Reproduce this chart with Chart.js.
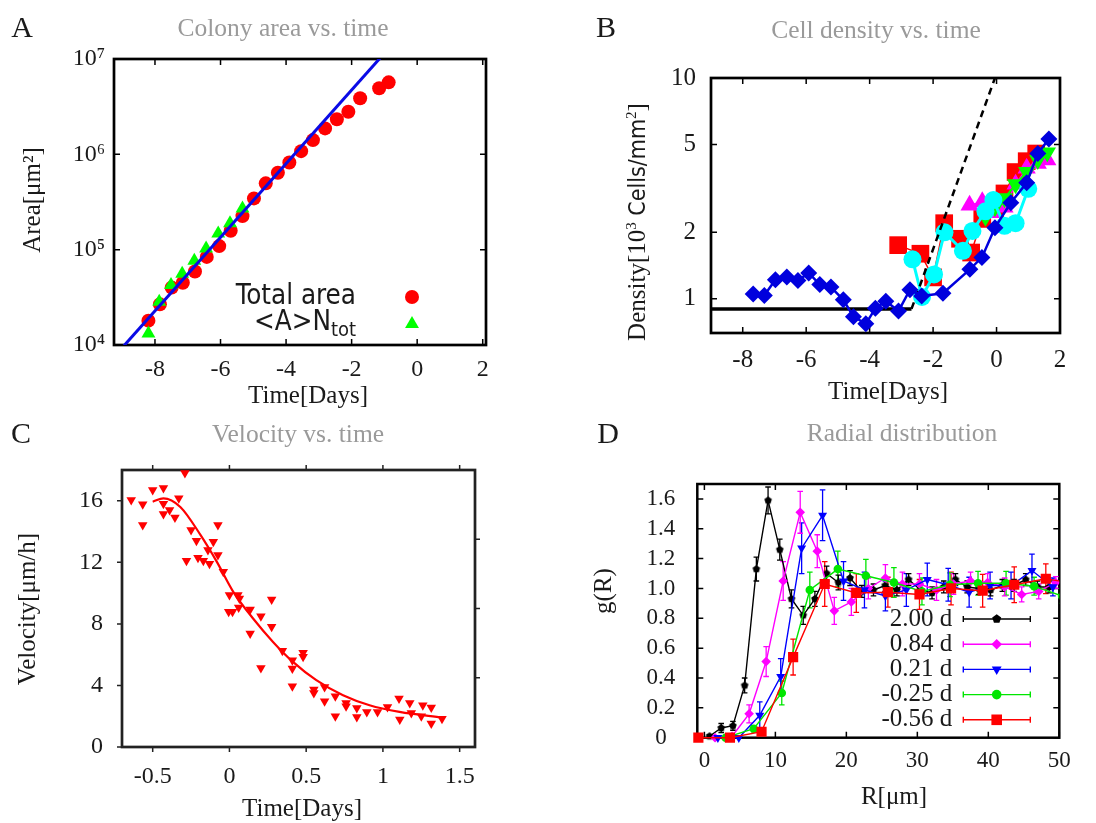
<!DOCTYPE html>
<html>
<head>
<meta charset="utf-8">
<script src="https://cdn.jsdelivr.net/npm/chart.js@4.4.1/dist/chart.umd.min.js"></script>
<style>
  html, body { margin: 0; padding: 0; background: #fff; }
  #page { position: relative; width: 1096px; height: 823px; overflow: hidden; }
  .panel { position: absolute; }
</style>
</head>
<body>
<div id="page">
  <div class="panel" style="left:0;top:0;width:548px;height:411px"><canvas id="ca"></canvas></div>
  <div class="panel" style="left:548px;top:0;width:548px;height:411px"><canvas id="cb"></canvas></div>
  <div class="panel" style="left:0;top:411px;width:548px;height:412px"><canvas id="cc"></canvas></div>
  <div class="panel" style="left:548px;top:411px;width:548px;height:412px"><canvas id="cd"></canvas></div>
</div>
<script>
// ---- A: colony area ----
const aTotalX = [-8.2, -7.85, -7.49, -7.15, -6.78, -6.42, -6.04, -5.69, -5.33, -4.98, -4.62,
                 -4.25, -3.9, -3.54, -3.18, -2.81, -2.45, -2.1, -1.74, -1.16, -0.87];
const aTotalY = [1.8e4, 2.67e4, 4.0e4, 4.5e4, 5.9e4, 8.4e4, 1.09e5, 1.58e5, 2.25e5, 3.45e5, 4.96e5,
                 6.4e5, 8.2e5, 1.08e6, 1.41e6, 1.87e6, 2.33e6, 2.8e6, 3.87e6, 4.93e6, 5.69e6];
const aCellX = [-8.2, -7.87, -7.51, -7.17, -6.8, -6.44, -6.07, -5.71, -5.33];
const aCellY = [1.32e4, 2.84e4, 4.25e4, 5.6e4, 7.65e4, 1.03e5, 1.48e5, 1.89e5, 2.71e5];
const aFitX = [-9.25, -1.0];
const aFitY = [7.5e3, 1.15e7];
const aXTicks = [-8, -6, -4, -2, 0, 2];
const aYTicks = [1e4, 1e5, 1e6, 1e7];
const aYLabels = ['10\u2074', '10\u2075', '10\u2076', '10\u2077'];

// ---- B: cell density ----
const bBlueX = [-7.67, -7.32, -6.97, -6.61, -6.26, -5.92, -5.57, -5.22, -4.83, -4.51, -4.12, -3.82,
                -3.49, -3.09, -2.73, -2.36, -1.69, -0.84, -0.46, -0.05, 0.45, 0.95, 1.3, 1.65];
const bBlueY = [1.05, 1.035, 1.22, 1.255, 1.21, 1.31, 1.16, 1.13, 0.99, 0.83, 0.77, 0.905,
                0.976, 0.88, 1.10, 1.03, 1.06, 1.36, 1.54, 2.1, 2.72, 3.35, 4.55, 5.3];
const bRedX = [-3.1, -2.4, -2.0, -1.65, -1.15, -0.8, -0.45, -0.05, 0.25, 0.6, 0.95, 1.25];
const bRedY = [1.75, 1.6, 1.25, 2.2, 1.87, 1.62, 2.3, 2.55, 3.0, 3.75, 4.2, 4.55];
const bCyanX = [-2.65, -2.35, -1.97, -1.64, -1.06, -0.76, -0.35, -0.1, 0.25, 0.6, 1.0];
const bCyanY = [1.51, 1.02, 1.29, 2.0, 1.65, 2.03, 2.49, 2.8, 2.14, 2.2, 3.15];
const bMagX = [-0.85, -0.45, -0.1, 0.25, 0.6, 0.95, 1.3, 1.6];
const bMagY = [2.65, 2.75, 2.45, 2.6, 3.3, 3.9, 4.1, 4.25];
const bGreenX = [-0.35, -0.05, 0.25, 0.6, 0.95, 1.3, 1.6];
const bGreenY = [2.35, 2.6, 2.85, 3.3, 3.75, 4.25, 4.6];
const bBaseX = [-9, -2.68];
const bBaseY = [0.9, 0.9];
const bFitX = [-2.68, -0.05];
const bFitY = [0.9, 10];
const bXTicks = [-8, -6, -4, -2, 0, 2];
const bYTicks = [1, 2, 5, 10];

// ---- C: velocity ----
const cVelX = [-0.64, -0.565, -0.565, -0.5, -0.43, -0.43, -0.43, -0.39, -0.355, -0.33,
               -0.29, -0.28, -0.25, -0.215, -0.205, -0.17, -0.14, -0.13, -0.105, -0.075,
               -0.075, -0.04, 0.0, -0.005, 0.02, 0.055, 0.065, 0.06, 0.135, 0.135,
               0.205, 0.205, 0.275, 0.275, 0.345, 0.41, 0.41, 0.41, 0.48, 0.48,
               0.55, 0.55, 0.62, 0.62, 0.69, 0.69, 0.76, 0.76, 0.83, 0.83,
               0.895, 0.965, 1.03, 1.105, 1.11, 1.175, 1.185, 1.25, 1.26, 1.315,
               1.315, 1.385];
const cVelY = [16.05, 15.77, 14.43, 16.7, 16.83, 15.8, 15.14, 15.4, 14.92, 16.16,
               17.8, 12.1, 14.1, 13.4, 12.3, 12.1, 12.8, 11.9, 13.34, 14.43,
               12.47, 11.39, 9.87, 8.79, 8.79, 9.87, 9.65, 9.07, 8.94, 7.38,
               8.5, 5.14, 9.59, 7.81, 6.25, 5.64, 5.1, 3.95, 6.12, 5.86,
               3.73, 3.51, 3.9, 2.97, 3.3, 2.0, 2.86, 2.65, 2.54, 1.95,
               2.28, 2.28, 2.6, 3.15, 1.78, 2.86, 2.21, 2.0, 2.71, 2.56,
               1.52, 1.84];
const cFitX = [-0.5, -0.43, -0.32, -0.19, -0.08, 0.024, 0.154, 0.284, 0.414, 0.566, 0.74, 0.913, 1.108, 1.39];
const cFitY = [15.94, 16.16, 15.6, 13.8, 12.0, 10.1, 8.35, 6.83, 5.53, 4.34, 3.36, 2.71, 2.28, 1.91];
const cXTicks = [-0.5, 0, 0.5, 1, 1.5];
const cXLabels = ['-0.5', '0', '0.5', '1', '1.5'];
const cYTicks = [0, 4, 8, 12, 16];
const cY2Ticks = [1, 2, 3];

// ---- D: radial distribution ----
const dBlackX = [0.72, 2.37, 4.02, 5.67, 7.32, 8.97, 10.62, 12.27, 13.92, 15.57, 17.22, 18.87, 20.52, 22.17, 23.82,
                 25.47, 27.12, 28.77, 30.42, 32.07, 33.72, 35.37, 37.02, 38.67, 40.32, 41.97, 43.62, 45.27, 46.92, 48.57];
const dBlackY = [0.01, 0.065, 0.08, 0.35, 1.13, 1.59, 1.26, 0.93, 0.82, 0.93, 1.10, 1.04, 1.07, 0.98, 0.99,
                 1.02, 0.99, 1.06, 0.99, 0.97, 1.01, 1.06, 1.01, 1.0, 0.99, 1.02, 1.02, 1.06, 1.01, 1.01];
const dBlackErr = [0.01, 0.03, 0.03, 0.05, 0.08, 0.09, 0.07, 0.06, 0.06, 0.05, 0.05, 0.05, 0.05, 0.04, 0.04,
                   0.04, 0.04, 0.04, 0.04, 0.04, 0.04, 0.04, 0.04, 0.04, 0.04, 0.04, 0.04, 0.04, 0.04, 0.04];
const dMagX = [1.5, 3.9, 6.3, 8.7, 11.1, 13.5, 15.9, 18.3, 20.7, 23.1, 25.5, 27.9, 30.3, 32.7, 35.1, 37.5, 39.9, 42.3, 44.7, 47.1, 49.5];
const dMagY = [0.0, 0.01, 0.16, 0.51, 1.05, 1.51, 1.25, 0.85, 0.91, 1.0, 1.07, 1.03, 1.03, 0.99, 1.03, 1.05, 1.04, 1.01, 0.96, 0.98, 1.04];
const dMagErr = [0.0, 0.01, 0.06, 0.1, 0.13, 0.14, 0.11, 0.09, 0.09, 0.07, 0.09, 0.08, 0.07, 0.07, 0.07, 0.06, 0.06, 0.06, 0.05, 0.05, 0.04];
const dBlueX = [1.9, 4.85, 7.8, 10.75, 13.7, 16.65, 19.6, 22.55, 25.5, 28.45, 31.4, 34.35, 37.3, 40.25, 43.2, 46.15, 49.1];
const dBlueY = [0.0, 0.0, 0.15, 0.41, 1.27, 1.49, 1.05, 0.99, 0.95, 0.99, 1.06, 1.025, 0.975, 1.02, 1.02, 1.12, 1.01];
const dBlueErr = [0.0, 0.0, 0.09, 0.12, 0.17, 0.17, 0.13, 0.12, 0.1, 0.11, 0.11, 0.11, 0.1, 0.09, 0.09, 0.11, 0.06];
const dGreenX = [3.0, 6.95, 10.9, 14.85, 18.8, 22.75, 26.7, 30.65, 34.6, 38.55, 42.5, 46.45, 50.4];
const dGreenY = [0.0, 0.06, 0.30, 0.99, 1.13, 1.085, 1.04, 0.98, 1.025, 1.035, 1.035, 1.015, 0.95];
const dGreenErr = [0.0, 0.02, 0.08, 0.12, 0.12, 0.11, 0.1, 0.09, 0.08, 0.08, 0.08, 0.06, 0.05];
const dRedX = [-0.85, 3.6, 8.05, 12.5, 16.95, 21.4, 25.85, 30.3, 34.75, 39.2, 43.65, 48.1, 52.55];
const dRedY = [0.0, 0.0, 0.04, 0.54, 1.03, 0.97, 0.975, 0.96, 1.0, 0.985, 1.025, 1.065, 1.03];
const dRedErr = [0.0, 0.0, 0.02, 0.12, 0.15, 0.13, 0.1, 0.1, 0.11, 0.11, 0.12, 0.1, 0.1];
const dLegendLabels = ['2.00 d', '0.84 d', '0.21 d', '-0.25 d', '-0.56 d'];
const dXTicks = [0, 10, 20, 30, 40, 50];
const dYTicks = [0, 0.2, 0.4, 0.6, 0.8, 1.0, 1.2, 1.4, 1.6];
const dYLabels = ['0', '0.2', '0.4', '0.6', '0.8', '1.0', '1.2', '1.4', '1.6'];

const SERIF = "'Liberation Serif', 'DejaVu Serif', 'Times New Roman', serif";
const SANS = "'DejaVu Sans Condensed', 'DejaVu Sans', Verdana, sans-serif";
const INK = '#1a1a1a';
const GREY = '#9a9a9a';
const RED = '#ff0000', GREEN = '#00ff00', BLUE = '#0a0ae6', DBLUE = '#0000dd';
const CYAN = '#00ffff', MAGENTA = '#ff00ff';

function pts(xs, ys) {
    return xs.map((x, i) => ({ x: x, y: ys[i] }));
}

// same shapes as Chart.js point styles, for hand drawn legends
function drawMarker(ctx, style, x, y, r, color) {
    ctx.save();
    ctx.fillStyle = color;
    ctx.beginPath();
    if (style === 'circle') {
        ctx.arc(x, y, r, 0, Math.PI * 2);
    } else if (style === 'triangle' || style === 'triangleDown') {
        const s = style === 'triangle' ? 1 : -1;
        for (let k = 0; k < 3; k++) {
            const a = k * 2 * Math.PI / 3;
            ctx.lineTo(x + Math.sin(a) * r, y - s * Math.cos(a) * r);
        }
    } else if (style === 'rectRot') {
        ctx.moveTo(x, y - r); ctx.lineTo(x + r, y); ctx.lineTo(x, y + r); ctx.lineTo(x - r, y);
    } else if (style === 'rect') {
        const h = r * Math.SQRT1_2;
        ctx.rect(x - h, y - h, 2 * h, 2 * h);
    } else if (style === 'pentagon') {
        for (let k = 0; k < 5; k++) {
            const a = -Math.PI / 2 + k * 2 * Math.PI / 5;
            ctx.lineTo(x + r * Math.cos(a), y + r * Math.sin(a));
        }
    }
    ctx.closePath();
    ctx.fill();
    ctx.restore();
}

function pentagon(r, color) {
    const c = document.createElement('canvas');
    const s = Math.ceil(2 * r + 2);
    c.width = s; c.height = s;
    drawMarker(c.getContext('2d'), 'pentagon', s / 2, s / 2, r, color);
    return c;
}

// text made of pieces with their own font and vertical shift, centred on (x, y)
function richText(ctx, parts, x, y, rotate) {
    ctx.save();
    ctx.translate(x, y);
    if (rotate) ctx.rotate(-Math.PI / 2);
    ctx.fillStyle = INK;
    ctx.textBaseline = 'alphabetic';
    ctx.textAlign = 'left';
    let total = 0;
    parts.forEach(p => { ctx.font = p.font; p.w = ctx.measureText(p.t).width; total += p.w; });
    let cx = -total / 2;
    parts.forEach(p => {
        ctx.font = p.font;
        ctx.fillText(p.t, cx, 8 + (p.dy || 0));
        cx += p.w;
    });
    ctx.restore();
}

function plainText(ctx, t, x, y, font, color, align) {
    ctx.font = font;
    ctx.fillStyle = color;
    ctx.textAlign = align || 'center';
    ctx.textBaseline = 'middle';
    ctx.fillText(t, x, y);
}

function decorPlugin(cfg) {
    return {
        id: 'decor',
        afterDraw(chart) {
            const ctx = chart.ctx;
            ctx.save();
            plainText(ctx, cfg.letter, cfg.letterAt[0], cfg.letterAt[1], `30px ${SERIF}`, INK);
            plainText(ctx, cfg.title, cfg.titleAt[0], cfg.titleAt[1], `25.5px ${SERIF}`, GREY);
            plainText(ctx, cfg.xTitle, cfg.xTitleAt[0], cfg.xTitleAt[1], `25px ${SERIF}`, INK);
            richText(ctx, cfg.yTitle, cfg.yTitleAt[0], cfg.yTitleAt[1], true);
            if (cfg.legend) cfg.legend(ctx, chart.chartArea);
            ctx.restore();
        }
    };
}

// plot frame with gnuplot style tick marks
function framePlugin(cfg) {
    return {
        id: 'frame',
        beforeDatasetsDraw(chart) {
            const { ctx, chartArea: a, scales } = chart;
            const L = cfg.tickLen, s = cfg.outward ? -1 : 1;
            ctx.save();
            ctx.strokeStyle = cfg.color;
            ctx.lineWidth = 1.5;
            ctx.beginPath();
            scales.x.ticks.forEach(t => {
                const px = scales.x.getPixelForValue(t.value);
                ctx.moveTo(px, a.bottom); ctx.lineTo(px, a.bottom - s * L);
                ctx.moveTo(px, a.top); ctx.lineTo(px, a.top + s * L);
            });
            scales.y.ticks.forEach(t => {
                const py = scales.y.getPixelForValue(t.value);
                ctx.moveTo(a.left, py); ctx.lineTo(a.left + s * L, py);
            });
            const yr = scales[cfg.right || 'y'];
            yr.ticks.forEach(t => {
                const py = yr.getPixelForValue(t.value);
                ctx.moveTo(a.right, py); ctx.lineTo(a.right - s * L, py);
            });
            ctx.stroke();
            ctx.lineWidth = cfg.width;
            ctx.strokeRect(a.left, a.top, a.right - a.left, a.bottom - a.top);
            ctx.restore();
        }
    };
}

function errorBarPlugin() {
    return {
        id: 'errbars',
        beforeDatasetsDraw(chart) {
            const { ctx, chartArea: a, scales } = chart;
            ctx.save();
            ctx.beginPath();
            ctx.rect(a.left, a.top - 10, a.right - a.left, a.bottom - a.top + 10);
            ctx.clip();
            chart.data.datasets.forEach(ds => {
                if (!ds.errors) return;
                ctx.strokeStyle = ds.borderColor;
                ctx.lineWidth = 1.3;
                ctx.beginPath();
                ds.data.forEach((p, i) => {
                    const e = ds.errors[i];
                    if (!e) return;
                    const px = scales.x.getPixelForValue(p.x);
                    const hi = scales.y.getPixelForValue(p.y + e);
                    const lo = scales.y.getPixelForValue(p.y - e);
                    ctx.moveTo(px, hi); ctx.lineTo(px, lo);
                    ctx.moveTo(px - 2.8, hi); ctx.lineTo(px + 2.8, hi);
                    ctx.moveTo(px - 2.8, lo); ctx.lineTo(px + 2.8, lo);
                });
                ctx.stroke();
            });
            ctx.restore();
        }
    };
}

function axis(opts) {
    return {
        type: opts.type || 'linear',
        position: opts.position,
        min: opts.min, max: opts.max,
        display: opts.display === undefined ? true : opts.display,
        grid: { display: false },
        border: { display: false },
        afterBuildTicks: s => { s.ticks = opts.ticks.map(v => ({ value: v })); },
        afterFit: s => {
            if (opts.width !== undefined) s.width = opts.width;
            if (opts.height !== undefined) s.height = opts.height;
        },
        ticks: {
            font: { family: SERIF, size: opts.font },
            color: INK,
            padding: opts.padding,
            crossAlign: opts.crossAlign || 'near',
            maxRotation: 0,
            autoSkip: false,
            callback: (v, i) => opts.labels ? opts.labels[i] : String(opts.ticks[i])
        }
    };
}

// plot rectangle inside each 548 x 411 panel
function baseOptions(box, w, h, scales) {
    return {
        responsive: true,
        maintainAspectRatio: false,
        animation: false,
        events: [],
        layout: { padding: { left: 0, top: box.top, right: w - box.right, bottom: 0 } },
        plugins: { legend: { display: false }, tooltip: { enabled: false } },
        scales: scales
    };
}

// ---------- A ----------
const boxA = { left: 114, top: 59, right: 486, bottom: 345 };
new Chart(document.getElementById('ca'), {
    type: 'scatter',
    data: {
        datasets: [
            { data: pts(aFitX, aFitY), showLine: true, borderColor: BLUE, borderWidth: 3, pointRadius: 0 },
            { data: pts(aCellX, aCellY), pointStyle: 'triangle', pointRadius: 8,
              pointBackgroundColor: GREEN, pointBorderWidth: 0 },
            { data: pts(aTotalX, aTotalY), pointStyle: 'circle', pointRadius: 7,
              pointBackgroundColor: RED, pointBorderWidth: 0 }
        ]
    },
    options: baseOptions(boxA, 548, 411, {
        x: axis({ position: 'bottom', min: -9.25, max: 2.1, ticks: aXTicks, font: 24, padding: 2, height: 411 - boxA.bottom }),
        y: axis({ type: 'logarithmic', position: 'left', min: 1e4, max: 1e7, ticks: aYTicks, labels: aYLabels,
                  font: 24, padding: 1, width: boxA.left })
    }),
    plugins: [
        framePlugin({ color: '#000', width: 2.7, tickLen: 6 }),
        decorPlugin({
            letter: 'A', letterAt: [22, 29],
            title: 'Colony area vs. time', titleAt: [283, 29],
            xTitle: 'Time[Days]', xTitleAt: [308, 396],
            yTitle: [{ t: 'Area[\u03bcm\u00b2]', font: `25px ${SERIF}` }], yTitleAt: [32, 200],
            legend(ctx, a) {
                const tx = a.right - 130;
                ctx.fillStyle = INK;
                ctx.textAlign = 'right';
                ctx.textBaseline = 'middle';
                ctx.font = `27.5px ${SANS}`;
                ctx.fillText('Total area', tx, a.top + 238);
                ctx.font = `20px ${SANS}`;
                const wSub = ctx.measureText('tot').width;
                ctx.fillText('tot', tx, a.top + 272);
                ctx.font = `27.5px ${SANS}`;
                ctx.fillText('<A>N', tx - wSub, a.top + 264);
                drawMarker(ctx, 'circle', a.right - 74, a.top + 238, 7, RED);
                drawMarker(ctx, 'triangle', a.right - 74, a.top + 265, 8, GREEN);
            }
        })
    ]
});

// ---------- B ----------
const boxB = { left: 163, top: 78, right: 512, bottom: 333 };
new Chart(document.getElementById('cb'), {
    type: 'scatter',
    data: {
        datasets: [
            { data: pts(bBlueX, bBlueY), showLine: true, borderColor: DBLUE, borderWidth: 2.5,
              pointStyle: 'rectRot', pointRadius: 8.5, pointBackgroundColor: DBLUE, pointBorderWidth: 0 },
            { data: pts(bFitX, bFitY), showLine: true, borderColor: '#000', borderWidth: 2.5,
              borderDash: [7, 5], pointRadius: 0 },
            { data: pts(bBaseX, bBaseY), showLine: true, borderColor: '#000', borderWidth: 3.5, pointRadius: 0 },
            { data: pts(bCyanX, bCyanY), showLine: true, borderColor: CYAN, borderWidth: 3,
              pointStyle: 'circle', pointRadius: 9, pointBackgroundColor: CYAN, pointBorderWidth: 0 },
            { data: pts(bGreenX, bGreenY), showLine: true, borderColor: GREEN, borderWidth: 2,
              pointStyle: 'triangle', pointRotation: 180, pointRadius: 10, pointBackgroundColor: GREEN, pointBorderWidth: 0 },
            { data: pts(bMagX, bMagY), showLine: true, borderColor: MAGENTA, borderWidth: 1.5,
              pointStyle: 'triangle', pointRadius: 10.5, pointBackgroundColor: MAGENTA, pointBorderWidth: 0 },
            { data: pts(bRedX, bRedY), showLine: true, borderColor: RED, borderWidth: 1.5,
              pointStyle: 'rect', pointRadius: 12.5, pointBackgroundColor: RED, pointBorderWidth: 0 }
        ]
    },
    options: baseOptions(boxB, 548, 411, {
        x: axis({ position: 'bottom', min: -9, max: 2, ticks: bXTicks, font: 25, padding: 4, height: 411 - boxB.bottom }),
        y: axis({ type: 'logarithmic', position: 'left', min: 0.7, max: 10, ticks: bYTicks,
                  font: 25, padding: 7, width: boxB.left })
    }),
    plugins: [
        framePlugin({ color: '#000', width: 2.7, tickLen: 6 }),
        decorPlugin({
            letter: 'B', letterAt: [58, 29],
            title: 'Cell density vs. time', titleAt: [328, 31],
            xTitle: 'Time[Days]', xTitleAt: [340, 392],
            yTitle: [
                { t: 'Density[', font: `25px ${SERIF}` },
                { t: '10', font: `25px ${SERIF}` },
                { t: '3', font: `15px ${SERIF}`, dy: -9 },
                { t: ' Cells/mm', font: `23px ${SANS}` },
                { t: '2', font: `15px ${SERIF}`, dy: -9 },
                { t: ']', font: `25px ${SERIF}` }
            ],
            yTitleAt: [89, 222]
        })
    ]
});

// ---------- C ----------
const boxC = { left: 122, top: 59, right: 475, bottom: 336 };
new Chart(document.getElementById('cc'), {
    type: 'scatter',
    data: {
        datasets: [
            { data: pts(cFitX, cFitY), showLine: true, borderColor: RED, borderWidth: 2.2, pointRadius: 0,
              cubicInterpolationMode: 'monotone' },
            { data: pts(cVelX, cVelY), pointStyle: 'triangle', pointRotation: 180, pointRadius: 5.5,
              pointBackgroundColor: RED, pointBorderWidth: 0 }
        ]
    },
    options: baseOptions(boxC, 548, 412, {
        x: axis({ position: 'bottom', min: -0.7, max: 1.6, ticks: cXTicks, labels: cXLabels,
                  font: 24, padding: 7, height: 412 - boxC.bottom }),
        y: axis({ position: 'left', min: 0, max: 18, ticks: cYTicks, font: 24, padding: 11, width: boxC.left }),
        y2: axis({ position: 'right', min: 0, max: 4, ticks: cY2Ticks, display: false })
    }),
    plugins: [
        framePlugin({ color: '#222', width: 2.7, tickLen: 5, outward: true, right: 'y2' }),
        decorPlugin({
            letter: 'C', letterAt: [21, 24],
            title: 'Velocity vs. time', titleAt: [298, 24],
            xTitle: 'Time[Days]', xTitleAt: [302, 398],
            yTitle: [{ t: 'Velocity[\u03bcm/h]', font: `25px ${SERIF}` }], yTitleAt: [27, 198]
        })
    ]
});

// ---------- D ----------
const boxD = { left: 149.3, top: 73, right: 511.3, bottom: 326.7 };
const dSeries = [
    { x: dBlackX, y: dBlackY, e: dBlackErr, color: '#000000', style: pentagon(4, '#000000'), legend: 'pentagon', r: 4.2 },
    { x: dMagX, y: dMagY, e: dMagErr, color: MAGENTA, style: 'rectRot', r: 4.8, legend: 'rectRot' },
    { x: dBlueX, y: dBlueY, e: dBlueErr, color: '#0000ff', style: 'triangle', rot: 180, r: 5.2, legend: 'triangleDown' },
    { x: dGreenX, y: dGreenY, e: dGreenErr, color: '#00e600', style: 'circle', r: 4.3, legend: 'circle' },
    { x: dRedX, y: dRedY, e: dRedErr, color: RED, style: 'rect', r: 7.2, legend: 'rect' }
];
const dDatasets = dSeries.map(s => ({
    data: pts(s.x, s.y), errors: s.e, showLine: true,
    borderColor: s.color, borderWidth: 1.4,
    pointStyle: s.style, pointRotation: s.rot || 0, pointRadius: s.r,
    pointBackgroundColor: s.color, pointBorderWidth: 0,
    clip: { left: 12, top: 0, right: 0, bottom: 12 }
})).reverse();

new Chart(document.getElementById('cd'), {
    type: 'scatter',
    data: { datasets: dDatasets },
    options: baseOptions(boxD, 548, 412, {
        x: axis({ position: 'bottom', min: -1, max: 50, ticks: dXTicks, font: 23, padding: 1, height: 412 - boxD.bottom }),
        y: axis({ position: 'left', min: 0, max: 1.7, ticks: dYTicks, labels: dYLabels, font: 23,
                  padding: 14, crossAlign: 'center', width: boxD.left })
    }),
    plugins: [
        framePlugin({ color: '#000', width: 2.5, tickLen: 6 }),
        errorBarPlugin(),
        decorPlugin({
            letter: 'D', letterAt: [60, 24],
            title: 'Radial distribution', titleAt: [354, 23],
            xTitle: 'R[\u03bcm]', xTitleAt: [346, 386],
            yTitle: [{ t: 'g(R)', font: `25px ${SERIF}` }], yTitleAt: [55, 180],
            legend(ctx, a) {
                dSeries.forEach((s, i) => {
                    const y = a.top + 135 + i * 25.2;
                    plainText(ctx, dLegendLabels[i], a.right - 107, y, `25px ${SERIF}`, INK, 'right');
                    ctx.save();
                    ctx.strokeStyle = s.color;
                    ctx.lineWidth = 1.4;
                    ctx.beginPath();
                    ctx.moveTo(a.right - 96, y); ctx.lineTo(a.right - 29, y);
                    ctx.moveTo(a.right - 96, y - 3); ctx.lineTo(a.right - 96, y + 3);
                    ctx.moveTo(a.right - 29, y - 3); ctx.lineTo(a.right - 29, y + 3);
                    ctx.stroke();
                    ctx.restore();
                    drawMarker(ctx, s.legend, a.right - 62.6, y, s.legend === 'rect' ? 7.5 : s.r + 0.5, s.color);
                });
            }
        })
    ]
});
</script>
</body>
</html>
